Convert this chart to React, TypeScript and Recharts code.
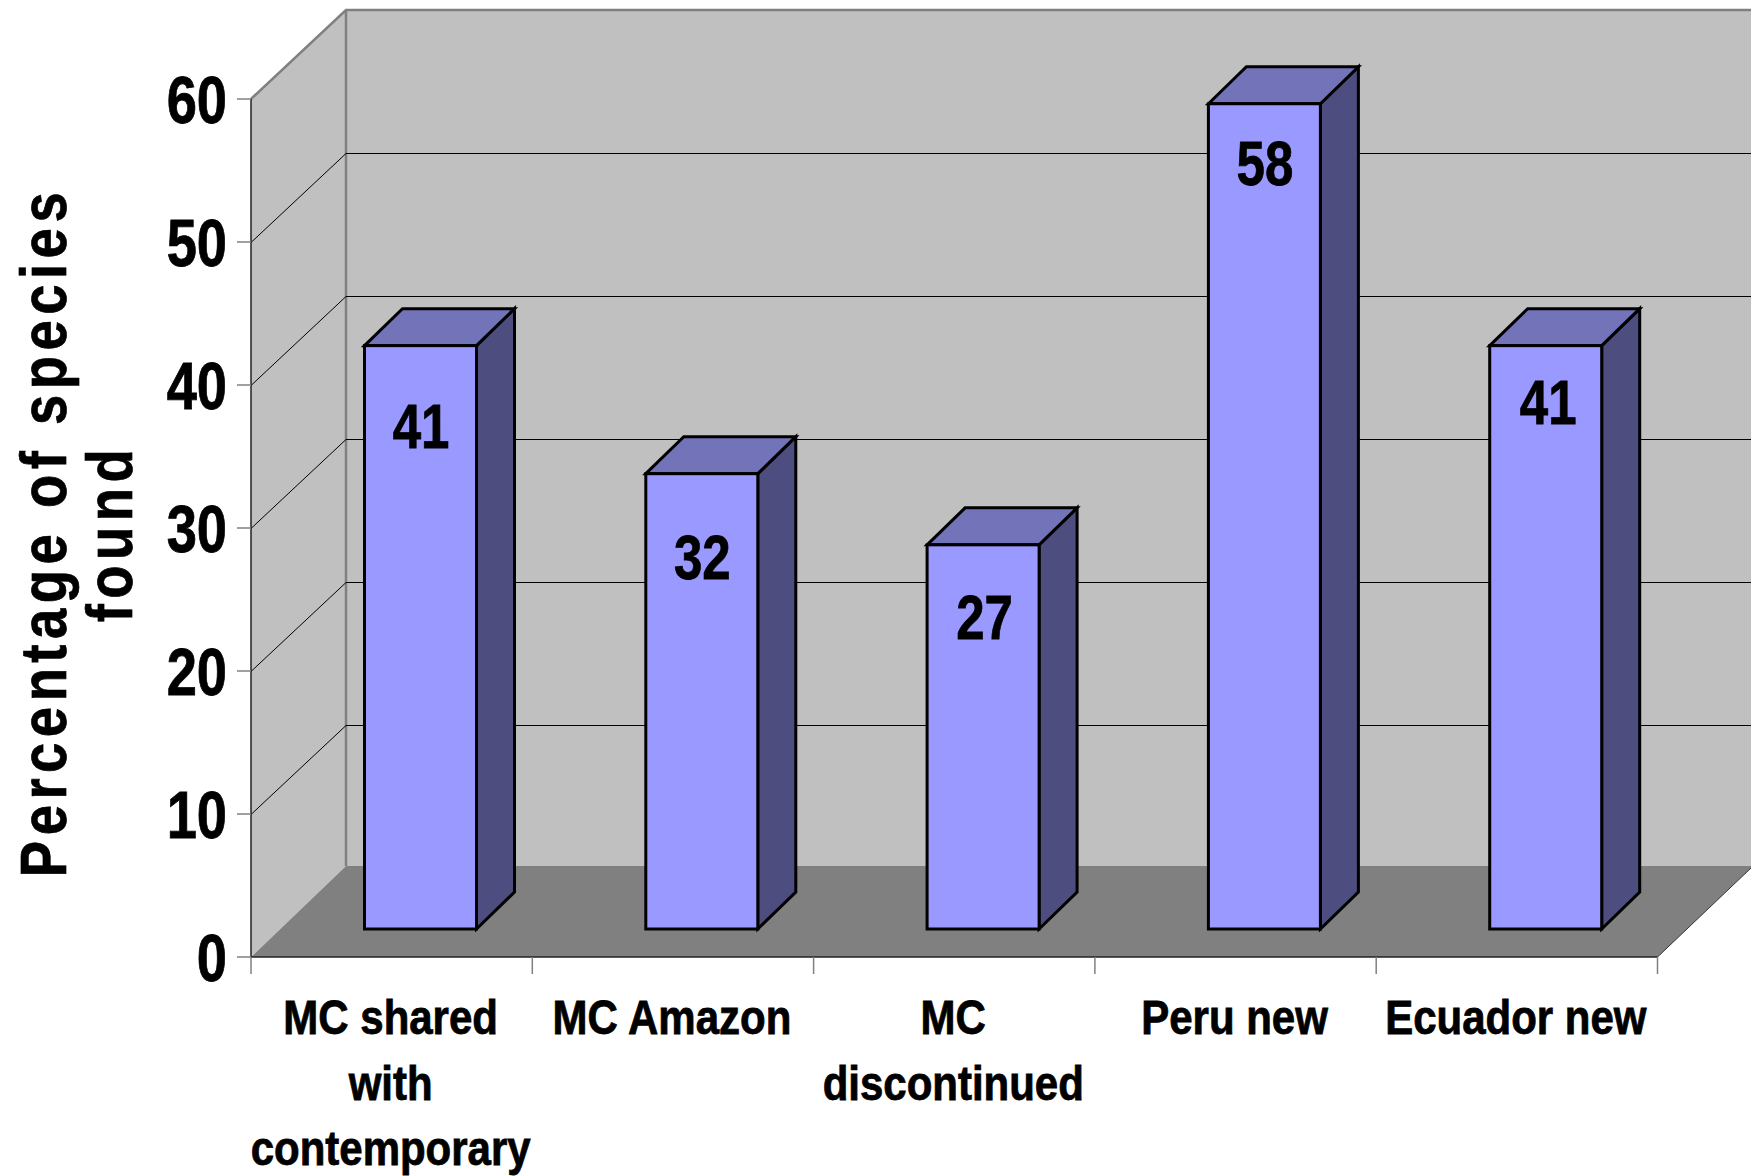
import React from "react";
import { BarChart, Bar, XAxis, YAxis, CartesianGrid, LabelList, Customized } from "recharts";

const categories = ["MC shared\nwith\ncontemporary", "MC Amazon", "MC\ndiscontinued", "Peru new", "Ecuador new"];
const speciesFound = [41, 32, 27, 58, 41];
const yTicks = [0, 10, 20, 30, 40, 50, 60];
const titleLines = ["Percentage of species", "found"];
const chartData = categories.map((category, i) => ({ category, value: speciesFound[i] }));

const W = 1751, H = 1176;
const LEFT = 251, RIGHT = 1657.5, TOP = 99, BOTTOM = 957;
const DX = 95, DY = 89;
const BACK_TOP = 10, BACK_BOTTOM = 866;
const FONT = "'Liberation Sans', Arial, sans-serif";
const LABEL_DROP = [102, 105, 94, 81, 78];
const LABEL_SHIFT = [29, 29, 30, 29, 31];

function Squeezed({ x, y, size, anchor = "middle", sx = 0.81, children }: any) {
  return (
    <text transform={`translate(${x},${y}) scale(${sx},1)`} textAnchor={anchor} fontFamily={FONT} fontWeight={700} fontSize={size} fill="#000" stroke="#000" strokeWidth={0.8}>
      {children}
    </text>
  );
}

function Walls() {
  return (
    <g>
      <polygon points={`${LEFT + DX},${BACK_TOP} ${W},${BACK_TOP} ${W},${BACK_BOTTOM} ${LEFT + DX},${BACK_BOTTOM}`} fill="#C0C0C0" />
      <polygon points={`${LEFT},${TOP} ${LEFT + DX},${BACK_TOP} ${LEFT + DX},${BACK_BOTTOM} ${LEFT},${BOTTOM}`} fill="#C0C0C0" />
      <polygon points={`${LEFT},${BOTTOM} ${LEFT + DX},${BACK_BOTTOM} ${W},${BACK_BOTTOM} ${W},868 ${RIGHT},${BOTTOM}`} fill="#808080" />
      <path d={`M${LEFT},${TOP} L${LEFT + DX},${BACK_TOP} L${W},${BACK_TOP} M${LEFT + DX},${BACK_TOP} L${LEFT + DX},${BACK_BOTTOM}`} fill="none" stroke="#808080" strokeWidth={2.5} />
      <path d={`M${RIGHT},${BOTTOM} L${W},868`} fill="none" stroke="#333" strokeWidth={1} />
    </g>
  );
}

function gridLine(p: any) {
  const back = Math.round(p.y1 - DY) + 0.5;
  const front = Math.round(p.y1) + 0.5;
  const line = p.y1 <= TOP + 1 || p.y1 >= BOTTOM - 1 ? null : (
    <path d={`M${LEFT},${front} L${LEFT + DX},${back} L${W},${back}`} fill="none" stroke="#000" strokeWidth={1} />
  );
  return (
    <g key={p.key}>
      {p.index === 0 ? <Walls /> : null}
      {line}
    </g>
  );
}

function Box3D({ x, y, width, height }: any) {
  const sx = 28.5, sy = 28, dx = 38, dy = 37, h = height * 0.995;
  const l = x + sx, r = l + width, b = y + height - sy, t = b - h;
  return (
    <g stroke="#000" strokeWidth={3} strokeLinejoin="miter">
      <polygon points={`${r},${t} ${r + dx},${t - dy} ${r + dx},${b - dy} ${r},${b}`} fill="#4D4D80" />
      <polygon points={`${l},${t} ${l + dx},${t - dy} ${r + dx},${t - dy} ${r},${t}`} fill="#7373B9" />
      <rect x={l} y={t} width={width} height={b - t} fill="#9999FF" />
    </g>
  );
}

function BarValue({ x, y, width, height, value, index }: any) {
  const b = y + height - 28, t = b - height * 0.995;
  return <Squeezed x={x + width / 2 + LABEL_SHIFT[index]} y={t + LABEL_DROP[index]} size={63}>{value}</Squeezed>;
}

function YTick({ x, y, payload }: any) {
  return (
    <g>
      <line x1={LEFT - 14} x2={LEFT} y1={y} y2={y} stroke="#808080" strokeWidth={1.5} />
      <Squeezed x={LEFT - 24} y={y + 24} size={67} anchor="end">{payload.value}</Squeezed>
    </g>
  );
}

const BAND = (RIGHT - LEFT) / categories.length;

function XTick({ x, payload, index }: any) {
  const lines = String(payload.value).split("\n");
  return (
    <g>
      {index === 0 && <line x1={x - BAND / 2} x2={x - BAND / 2} y1={BOTTOM} y2={BOTTOM + 17} stroke="#808080" strokeWidth={1.5} />}
      <line x1={x + BAND / 2} x2={x + BAND / 2} y1={BOTTOM} y2={BOTTOM + 17} stroke="#808080" strokeWidth={1.5} />
      {lines.map((line, i) => (
        <Squeezed key={i} x={x - 1} y={1034 + i * 65.5} size={48} sx={0.875}>{line}</Squeezed>
      ))}
    </g>
  );
}

function Title() {
  const common = { textAnchor: "middle", fontFamily: FONT, fontWeight: 700, fontSize: 64, letterSpacing: 6.5, fill: "#000", stroke: "#000", strokeWidth: 0.7 } as any;
  return (
    <g>
      <text transform="translate(66,532) rotate(-90) scale(0.85,1)" {...common}>{titleLines[0]}</text>
      <text transform="translate(132,533) rotate(-90) scale(0.85,1)" {...common}>{titleLines[1]}</text>
    </g>
  );
}

export default function App() {
  return (
    <div style={{ position: "absolute", left: 0, top: 0, width: W, height: H, background: "#fff", overflow: "hidden" }}>
      <BarChart width={W} height={H} data={chartData} margin={{ top: TOP, right: W - RIGHT, bottom: 0, left: 0 }} barCategoryGap={0}>
        <CartesianGrid vertical={false} horizontal={gridLine as any} />
        <XAxis dataKey="category" height={H - BOTTOM} interval={0} axisLine={{ stroke: "#222", strokeWidth: 1.5 }} tickLine={false} tick={XTick as any} />
        <YAxis width={LEFT} domain={[0, 60]} ticks={yTicks} axisLine={{ stroke: "#222", strokeWidth: 1.5 }} tickLine={false} tick={YTick as any} />
        <Bar dataKey="value" barSize={112} shape={Box3D as any} isAnimationActive={false}>
          <LabelList dataKey="value" content={BarValue as any} />
        </Bar>
        <Customized component={Title} />
      </BarChart>
    </div>
  );
}
